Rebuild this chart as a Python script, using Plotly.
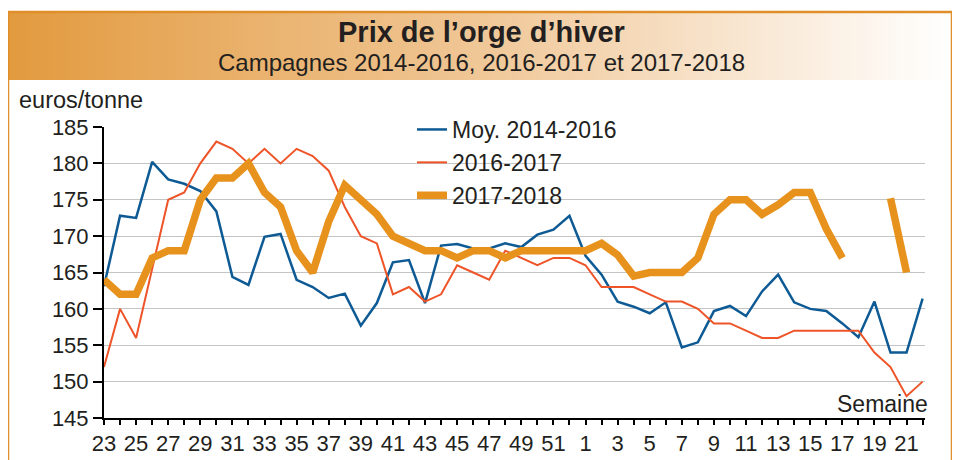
import base64
import plotly.graph_objects as go

weeks = ["23", "24", "25", "26", "27", "28", "29", "30", "31", "32", "33", "34", "35", "36", "37",
         "38", "39", "40", "41", "42", "43", "44", "45", "46", "47", "48", "49", "50", "51", "52",
         "1", "2", "3", "4", "5", "6", "7", "8", "9", "10", "11", "12", "13", "14", "15", "16",
         "17", "18", "19", "20", "21", "22"]

moy_2014_2016 = [163.1, 172.8, 172.5, 180.2, 177.8, 177.2, 176.2, 173.4, 164.4, 163.3, 169.9, 170.3,
                 164.0, 163.0, 161.5, 162.1, 157.7, 160.8, 166.4, 166.7, 160.8, 168.7, 168.9, 168.3,
                 168.3, 169.0, 168.5, 170.2, 170.9, 172.8, 167.3, 164.7, 161.0, 160.3, 159.4, 160.9,
                 154.7, 155.4, 159.7, 160.4, 159.0, 162.4, 164.7, 160.9, 160.0, 159.7, 158.0, 156.1,
                 161.0, 154.0, 154.0, 161.4]

c_2016_2017 = [152, 160, 156, 165.5, 175, 176, 180, 183, 182, 180, 182, 180, 182, 181, 179, 174,
               170, 169, 162, 163, 161, 162, 166, 165, 164, 168, 167, 166, 167, 167, 166, 163,
               163, 163, 162, 161, 161, 160, 158, 158, 157, 156, 156, 157, 157, 157, 157, 157,
               154, 152, 148, 150]

c_2017_2018 = [164, 162, 162, 167, 168, 168, 175, 178, 178, 180, 176, 174, 168, 165, 172, 177,
               175, 173, 170, 169, 168, 168, 167, 168, 168, 167, 168, 168, 168, 168, 168, 169,
               167.4, 164.5, 165, 165, 165, 167, 173, 175, 175, 173, 174.3, 176, 176, 171,
               167, None, None, 175.2, 165, None]

y_ticks = [145, 150, 155, 160, 165, 170, 175, 180, 185]
x_tick_labels = [w if i % 2 == 0 else "" for i, w in enumerate(weeks)]

FONT = "Liberation Sans, Arial, Helvetica, sans-serif"
TXT = "#231F20"
BLUE = "#0D5A94"
RED = "#EE5428"
ORANGE = "#E8921E"
BORDER = "#E08E2A"

# The page body has an 8px margin: lay out in screen pixels, shifted by OFF.
OFF = 8
W, H = 960, 460
PLOT_L, PLOT_R, PLOT_T, PLOT_B = 104, 925, 127, 418  # screen pixels of plot area
L = PLOT_L - OFF
T = PLOT_T - OFF
R = W - (PLOT_R - OFF)
B = H - (PLOT_B - OFF)
pw, ph = PLOT_R - PLOT_L, PLOT_B - PLOT_T


def px(x):
    return (x - PLOT_L) / pw


def py(y):
    return (PLOT_B - y) / ph


fig = go.Figure()
fig.add_trace(go.Scatter(x=weeks, y=moy_2014_2016, mode="lines", name="Moy. 2014-2016",
                         line=dict(color=BLUE, width=2.5)))
fig.add_trace(go.Scatter(x=weeks, y=c_2016_2017, mode="lines", name="2016-2017",
                         line=dict(color=RED, width=2)))
fig.add_trace(go.Scatter(x=weeks, y=c_2017_2018, mode="lines", name="2017-2018",
                         line=dict(color=ORANGE, width=7.5), connectgaps=False))

svg = ('<svg xmlns="http://www.w3.org/2000/svg" width="944" height="68" preserveAspectRatio="none">'
       '<defs><linearGradient id="g" x1="0" y1="0" x2="1" y2="0">'
       '<stop offset="0" stop-color="#E29A3E"/><stop offset="0.5" stop-color="#F0C797"/>'
       '<stop offset="1" stop-color="#FFFFFF"/></linearGradient></defs>'
       '<rect x="0" y="0" width="944" height="68" fill="url(#g)"/></svg>')
src = "data:image/svg+xml;base64," + base64.b64encode(svg.encode()).decode()

fig.update_layout(
    width=W, height=H,
    margin=dict(l=L, r=R, t=T, b=B, pad=0, autoexpand=False),
    paper_bgcolor="white", plot_bgcolor="white",
    font=dict(family=FONT, color=TXT, size=22),
    showlegend=True,
    legend=dict(x=px(412), y=py(108), xanchor="left", yanchor="top",
                bgcolor="rgba(0,0,0,0)", font=dict(size=23, color=TXT),
                itemwidth=30, tracegroupgap=0),
    xaxis=dict(type="category", range=[0, 51.15], tickmode="array", tickvals=weeks,
               ticktext=x_tick_labels, ticks="outside", ticklen=5, tickwidth=1.5,
               tickcolor="black", showline=True, linecolor="black", linewidth=2,
               showgrid=False, zeroline=False, tickfont=dict(size=22, color=TXT),
               tickangle=0, automargin=False),
    yaxis=dict(range=[145, 185], tickmode="array", tickvals=y_ticks, ticks="outside",
               ticklen=9, tickwidth=1.5, tickcolor="black", showline=True, linecolor="black",
               linewidth=2, showgrid=True, gridcolor="#C4C4C4", gridwidth=1, zeroline=False,
               tickfont=dict(size=22, color=TXT), automargin=False),
    images=[dict(source=src, xref="paper", yref="paper", x=px(9), y=py(13),
                 sizex=px(952) - px(9), sizey=py(13) - py(80), xanchor="left",
                 yanchor="top", sizing="stretch", layer="below")],
    shapes=[dict(type="rect", xref="paper", yref="paper", x0=px(8), x1=px(952),
                 y0=py(475), y1=py(12), line=dict(color=BORDER, width=2.5),
                 fillcolor="rgba(0,0,0,0)", layer="above")],
    annotations=[
        dict(text="<b>Prix de l’orge d’hiver</b>", xref="paper", yref="paper",
             x=px(481), y=py(32), xanchor="center", yanchor="middle", showarrow=False,
             font=dict(size=29, color=TXT)),
        dict(text="Campagnes 2014-2016, 2016-2017 et 2017-2018", xref="paper", yref="paper",
             x=px(481), y=py(63), xanchor="center", yanchor="middle", showarrow=False,
             font=dict(size=24, color=TXT)),
        dict(text="euros/tonne", xref="paper", yref="paper", x=px(17), y=py(100),
             xanchor="left", yanchor="middle", showarrow=False, font=dict(size=23.5, color=TXT)),
        dict(text="Semaine", xref="paper", yref="paper", x=px(930), y=py(404),
             xanchor="right", yanchor="middle", showarrow=False, font=dict(size=23, color=TXT)),
    ],
)

fig.write_html("out.html")
